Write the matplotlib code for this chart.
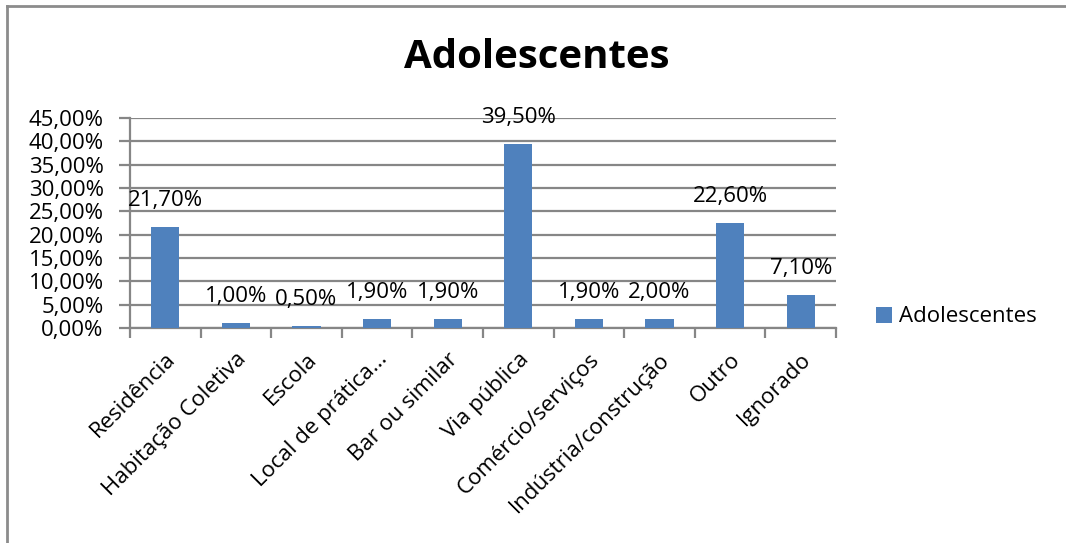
import matplotlib.pyplot as plt
from matplotlib.lines import Line2D
from matplotlib.ticker import FixedLocator, FuncFormatter
import numpy as np

plt.rcParams['font.family'] = ['Open Sans', 'DejaVu Sans']

categories = ['Residência', 'Habitação Coletiva', 'Escola', 'Local de prática...',
              'Bar ou similar', 'Via pública', 'Comércio/serviços',
              'Indústria/construção', 'Outro', 'Ignorado']
values = [21.7, 1.0, 0.5, 1.9, 1.9, 39.5, 1.9, 2.0, 22.6, 7.1]
series_name = 'Adolescentes'
title = 'Adolescentes'

W, H = 1066, 543
fig = plt.figure(figsize=(W / 100, H / 100), dpi=100)

# chart-area border (only top and left visible in the crop)
fig.add_artist(Line2D([7 / W, 7 / W], [-0.01, 1 - 6 / H], transform=fig.transFigure, color='#8c8c8c', lw=2))
fig.add_artist(Line2D([7 / W, 1.01], [1 - 6 / H, 1 - 6 / H], transform=fig.transFigure, color='#8c8c8c', lw=2))

ax = fig.add_axes([130 / W, (H - 328) / H, 706 / W, 210 / H])
grid_c = '#868686'
fs = 16
x = np.arange(len(categories))
bars = ax.bar(x, values, width=0.4, color='#4F81BD', zorder=3, label=series_name)

for xi, v in zip(x, values):
    ax.annotate(f'{v:.2f}%'.replace('.', ','), (xi, v), xytext=(0, 19), textcoords='offset points',
                ha='center', va='center', fontsize=fs, zorder=4)

ax.set_xlim(-0.5, len(categories) - 0.5)
ax.set_ylim(0, 45)
ax.set_yticks(np.arange(0, 46, 5))
ax.yaxis.set_major_formatter(FuncFormatter(lambda v, p: f'{v:.2f}%'.replace('.', ',')))
ax.grid(axis='y', color=grid_c, lw=1.6, zorder=0)
ax.tick_params(axis='y', length=8, width=1.6, color=grid_c, pad=11, labelsize=fs)

ax.xaxis.set_major_locator(FixedLocator(np.arange(-0.5, len(categories), 1)))
ax.xaxis.set_major_formatter(FuncFormatter(lambda v, p: ''))
ax.xaxis.set_minor_locator(FixedLocator(x))
ax.set_xticklabels(categories, minor=True)
ax.tick_params(axis='x', which='major', length=7, width=1.6, color=grid_c)
ax.tick_params(axis='x', which='minor', length=0, pad=15, labelsize=fs)
for lab in ax.get_xticklabels(minor=True):
    lab.set_rotation(45)
    lab.set_ha('right')
    lab.set_va('top')
    lab.set_rotation_mode('anchor')

for s in ['top', 'right']:
    ax.spines[s].set_visible(False)
for s in ['left', 'bottom']:
    ax.spines[s].set_color(grid_c)
    ax.spines[s].set_linewidth(1.6)

fig.text(537 / W, 1 - 58 / H, title, ha='center', va='center', fontsize=29, fontweight='bold')

ax.legend(loc='center left', bbox_to_anchor=(856 / W, 1 - 317 / H), bbox_transform=fig.transFigure,
          frameon=False, fontsize=fs, handlelength=0.7, handleheight=0.7, handletextpad=0.35)

fig.savefig('out.png', dpi=100)
